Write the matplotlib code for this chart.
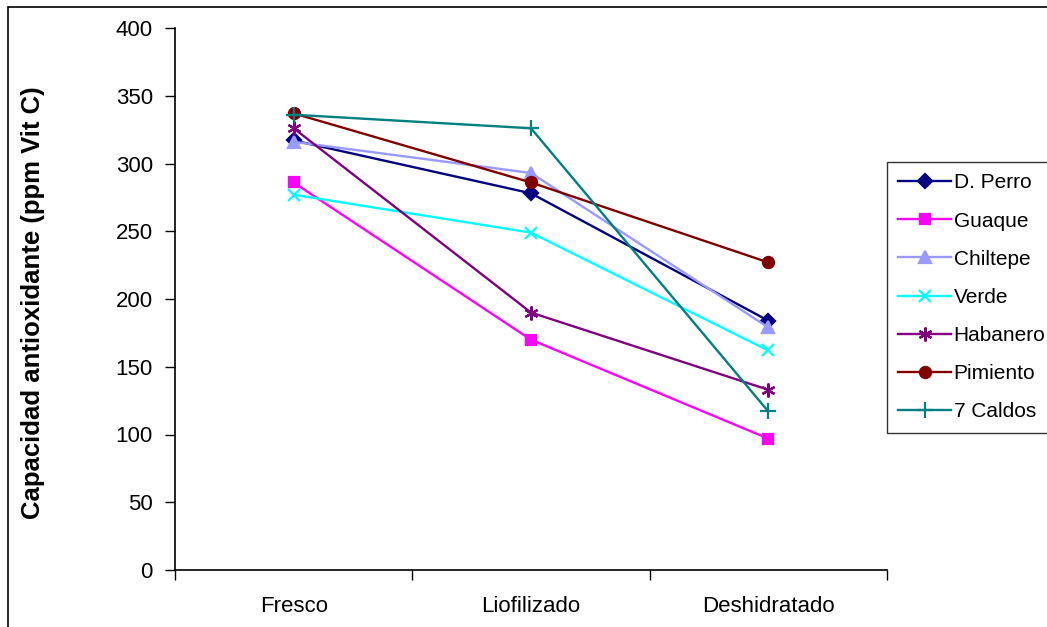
import matplotlib.pyplot as plt
from matplotlib.patches import Rectangle

plt.rcParams["font.family"] = ["Liberation Sans", "DejaVu Sans"]

stages = ["Fresco", "Liofilizado", "Deshidratado"]

d_perro = [317, 278, 184]
guaque = [286, 170, 97]
chiltepe = [316, 293, 179]
verde = [277, 249, 162]
habanero = [326, 190, 133]
pimiento = [337, 286, 227]
siete_caldos = [336, 326, 117]

series = [
    ("D. Perro", d_perro, "#000080", "D", 7),
    ("Guaque", guaque, "#FF00FF", "s", 7),
    ("Chiltepe", chiltepe, "#9999FF", "^", 8),
    ("Verde", verde, "#00FFFF", "x", 9),
    ("Habanero", habanero, "#800080", (6, 2, 0), 10),
    ("Pimiento", pimiento, "#800000", "o", 8),
    ("7 Caldos", siete_caldos, "#008080", "+", 11),
]

W, H = 1047, 627
fig = plt.figure(figsize=(W / 100, H / 100), dpi=100)
ax = fig.add_axes([175 / W, 1 - 570 / H, (887 - 175) / W, (570 - 28) / H])

x = [0.5, 1.5, 2.5]
for name, vals, color, marker, ms in series:
    ax.plot(x, vals, color=color, lw=1.7, marker=marker, ms=ms,
            mew=1.6, label=name)

ax.set_xlim(0, 3)
ax.set_ylim(0, 400)
ax.set_yticks(range(0, 401, 50))
ax.set_xticks([0, 1, 2, 3])
ax.set_xticklabels([])
ax.set_xticks(x, minor=True)
ax.set_xticklabels(stages, minor=True)
ax.tick_params(axis="x", which="minor", length=0, pad=19, labelsize=16)
ax.tick_params(axis="x", which="major", length=7, width=1, direction="out")
ax.tick_params(axis="y", length=7, width=1, pad=9, labelsize=16)
for side in ["top", "right"]:
    ax.spines[side].set_visible(False)
for side in ["left", "bottom"]:
    ax.spines[side].set_linewidth(1.2)

fig.text(33 / W, 1 - 303 / H, "Capacidad antioxidante (ppm Vit C)",
         rotation=90, ha="center", va="center", fontsize=18.5,
         fontweight="bold")

leg = fig.legend(loc="upper left", bbox_to_anchor=(887 / W, 1 - 162 / H),
                 frameon=True, fancybox=False, edgecolor="black",
                 fontsize=15, handlelength=2.5, labelspacing=0.92,
                 borderpad=0.55, handletextpad=0.15, borderaxespad=0)
leg.get_frame().set_linewidth(1)

# chart area border
fig.patches.append(Rectangle((8 / W, -0.1), 1.1, 1 - 7 / H + 0.1,
                             transform=fig.transFigure, fill=False,
                             edgecolor="black", lw=1.2))

fig.savefig("out.png", dpi=100)
